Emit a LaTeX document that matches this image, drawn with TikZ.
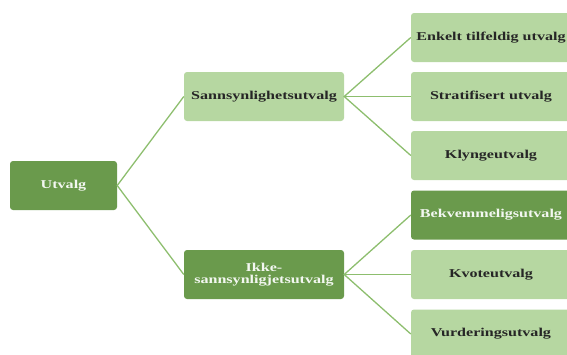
\documentclass[tikz,border=0pt]{standalone}
\usepackage{fontspec}
\setmainfont[FakeStretch=1.34]{Liberation Serif}
\definecolor{darkg}{HTML}{6A9A4C}
\definecolor{lightg}{HTML}{B6D7A1}
\definecolor{lineg}{HTML}{8DBE6E}
\begin{document}
\begin{tikzpicture}[x=1pt,y=-1pt,
  box/.style={rounded corners=3pt, minimum width=160pt, minimum height=49pt, inner sep=1pt, align=center, font=\bfseries\fontsize{12}{12.5}\selectfont},
  darkbox/.style={box, fill=darkg, text=white!92!darkg},
  lightbox/.style={box, fill=lightg, text=black!85},
  conn/.style={draw=lineg, line width=1.3pt}]
\useasboundingbox (0,0) rectangle (567,354);
\node[darkbox, minimum width=107pt] (u) at (63.5,185.5) {Utvalg};
\node[lightbox] (s) at (264,96.5) {Sannsynlighetsutvalg};
\node[darkbox] (i) at (264,274.5) {Ikke-\\sannsynligjetsutvalg};
\node[lightbox] (e) at (491,37.5) {Enkelt tilfeldig utvalg};
\node[lightbox] (st) at (491,96.5) {Stratifisert utvalg};
\node[lightbox] (k) at (491,155.5) {Klyngeutvalg};
\node[darkbox] (b) at (491,215) {Bekvemmeligsutvalg};
\node[lightbox] (kv) at (491,274.5) {Kvoteutvalg};
\node[lightbox] (v) at (491,334) {Vurderingsutvalg};
\draw[conn] (s.west) -- (u.east) -- (i.west);
\draw[conn] (e.west) -- (s.east) -- (k.west);
\draw[conn] (s.east) -- (st.west);
\draw[conn] (b.west) -- (i.east) -- (v.west);
\draw[conn] (i.east) -- (kv.west);
\end{tikzpicture}
\end{document}
